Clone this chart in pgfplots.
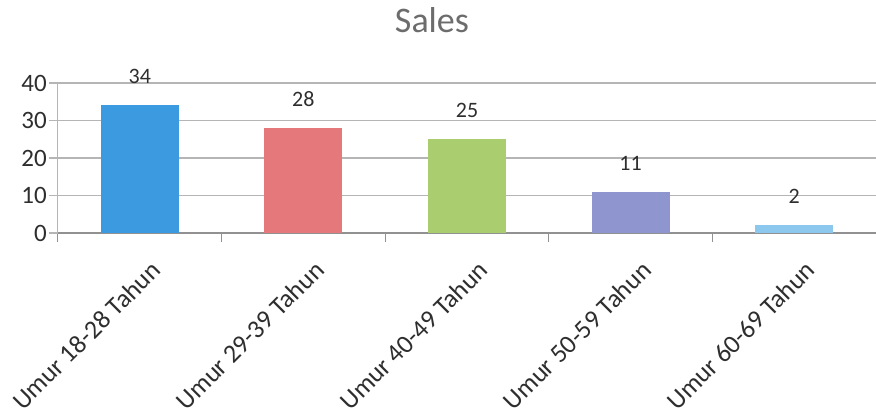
\documentclass[border=0pt]{standalone}
\usepackage{pgfplots}
\pgfplotsset{compat=1.18}
\usepackage{fontspec}
\setmainfont{Carlito}
\definecolor{cA}{HTML}{3C9BE0}
\definecolor{cB}{HTML}{E4787A}
\definecolor{cC}{HTML}{A9CD6F}
\definecolor{cD}{HTML}{8F95CF}
\definecolor{cE}{HTML}{8CC8EE}
\definecolor{gridc}{HTML}{B5B5B5}
\definecolor{txt}{HTML}{2E2E2E}
\begin{document}
\begin{tikzpicture}
\begin{axis}[
  at={(0,0)}, anchor=south west,
  scale only axis, width=818pt, height=150pt,
  /pgf/number format/assume math mode=true,
  ymin=0, ymax=40, xmin=-0.5, xmax=4.5,
  ytick={0,10,20,30,40},
  xtick={0,1,2,3,4},
  xticklabels={Umur 18-28 Tahun, Umur 29-39 Tahun, Umur 40-49 Tahun, Umur 50-59 Tahun, Umur 60-69 Tahun},
  minor xtick={-0.5,0.5,1.5,2.5,3.5,4.5},
  major x tick style={draw=none},
  minor x tick style={gridc!80!black, line width=1pt},
  y tick style={gridc, line width=1.2pt},
  tick align=outside,
  major tick length=9pt, minor tick length=9pt,
  ymajorgrids,
  grid style={gridc, line width=1.2pt},
  axis x line*=bottom, axis y line*=left,
  x axis line style={gridc!80!black, line width=1.2pt},
  y axis line style={gridc, line width=1pt},
  yticklabel style={font=\fontsize{25}{29}\selectfont, text=txt, inner sep=2pt},
  xticklabel style={font=\fontsize{26}{30}\selectfont, text=txt, rotate=45, anchor=north east, xshift=-2pt, yshift=-15.5pt},
  title={Sales},
  title style={font=\fontsize{36}{42}\selectfont, text=gray!85!black, at={(0.5,1)}, anchor=base, yshift=44pt, xshift=-35pt},
  nodes near coords,
  nodes near coords style={font=\fontsize{22}{26}\selectfont, text=txt, anchor=south, yshift=18pt},
  clip=false,
]
\addplot[ybar, bar width=78pt, bar shift=0pt, fill=cA, draw=none] coordinates {(0,34)};
\addplot[ybar, bar width=78pt, bar shift=0pt, fill=cB, draw=none] coordinates {(1,28)};
\addplot[ybar, bar width=78pt, bar shift=0pt, fill=cC, draw=none] coordinates {(2,25)};
\addplot[ybar, bar width=78pt, bar shift=0pt, fill=cD, draw=none] coordinates {(3,11)};
\addplot[ybar, bar width=78pt, bar shift=0pt, fill=cE, draw=none] coordinates {(4,2)};
\coordinate (O) at (rel axis cs:0,0);
\end{axis}
\pgfresetboundingbox
\path[use as bounding box] ([xshift=-58pt,yshift=-184pt]O) rectangle ([xshift=818pt,yshift=233pt]O);
\end{tikzpicture}
\end{document}
